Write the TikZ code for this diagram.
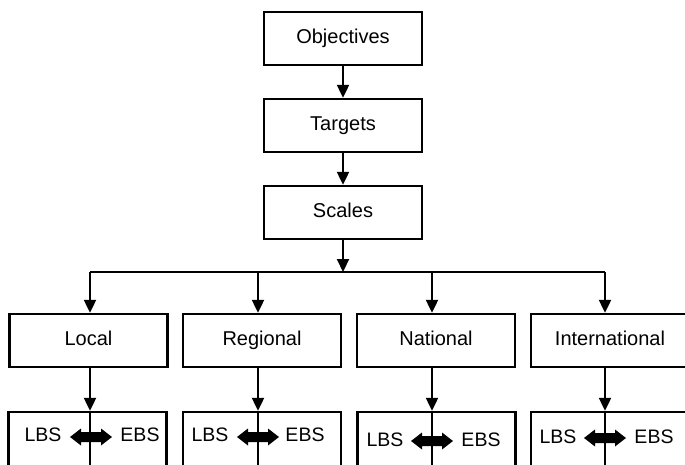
\documentclass[tikz,border=0pt]{standalone}
\usepackage{fontspec}
\setmainfont{Liberation Sans}
\usetikzlibrary{arrows.meta}
\begin{document}
\begin{tikzpicture}[x=1pt,y=-1pt,
  box/.style={draw, line width=2.4pt, minimum width=158pt, minimum height=53pt, inner sep=0pt, text height=14.5pt, text depth=4pt, font=\fontsize{20}{24}\selectfont},
  lowbox/.style={draw, line width=2.4pt, minimum width=158pt, minimum height=100pt, inner sep=0pt},
  conn/.style={line width=2.2pt},
  arr/.style={line width=2.2pt, -{Triangle[length=13pt,width=12pt]}},
  lab/.style={inner sep=0pt, font=\fontsize{19.5}{23}\selectfont},
  dblarrow/.style={fill=black}]
\path[use as bounding box] (0,0) rectangle (685,465);
\clip (0,0) rectangle (685,465);
% top chain
\node[box] (obj) at (343,38.5) {Objectives};
\node[box] (tar) at (343,125.5) {Targets};
\node[box] (sca) at (343,212.5) {Scales};
\coordinate (hub) at (343,272);
\coordinate (j1) at (90,272);
\coordinate (j2) at (258,272);
\coordinate (j3) at (432,272);
\coordinate (j4) at (605,272);
% scale boxes
\node[box] (loc) at (88.5,340.5) {Local};
\node[box] (reg) at (262,340.5) {Regional};
\node[box] (nat) at (436,340.5) {National};
\node[box] (int) at (610,340.5) {International};
% bottom boxes
\node[lowbox] (b1) at (87.5,462) {};
\node[lowbox] (b2) at (262,462) {};
\node[lowbox] (b3) at (436.5,462) {};
\node[lowbox] (b4) at (610,462) {};
% connectors
\draw[arr] (obj) -- (tar);
\draw[arr] (tar) -- (sca);
\draw[arr] (sca) -- (hub);
\draw[conn] (j1) -- (j4);
\draw[arr] (j1) -- (j1 |- loc.north);
\draw[arr] (j2) -- (j2 |- reg.north);
\draw[arr] (j3) -- (j3 |- nat.north);
\draw[arr] (j4) -- (j4 |- int.north);
\draw[arr] (loc.south -| j1) -- (b1.north -| j1);
\draw[arr] (reg.south -| j2) -- (b2.north -| j2);
\draw[arr] (nat.south -| j3) -- (b3.north -| j3);
\draw[arr] (int.south -| j4) -- (b4.north -| j4);
% LBS / EBS
\node[lab] (l1) at (43,435) {LBS};
\coordinate (d1) at (91,437);
\node[lab] (e1) at (140,435) {EBS};
\node[lab] (l2) at (210,435) {LBS};
\coordinate (d2) at (258,437);
\node[lab] (e2) at (305,435) {EBS};
\node[lab] (l3) at (385,440) {LBS};
\coordinate (d3) at (432,441);
\node[lab] (e3) at (481,440) {EBS};
\node[lab] (l4) at (558,437) {LBS};
\coordinate (d4) at (605,438);
\node[lab] (e4) at (654,437) {EBS};
\foreach \d in {d1,d2,d3,d4}{
  \fill[dblarrow] (\d) ++(-21,0) -- ++(11,-8.5) -- ++(0,3.5) -- ++(20,0) -- ++(0,-3.5)
    -- ++(11,8.5) -- ++(-11,8.5) -- ++(0,-3.5) -- ++(-20,0) -- ++(0,3.5) -- cycle;
}
\draw[conn] (b1.north -| j1) -- (b1.south -| j1);
\draw[conn] (b2.north -| j2) -- (b2.south -| j2);
\draw[conn] (b3.north -| j3) -- (b3.south -| j3);
\draw[conn] (b4.north -| j4) -- (b4.south -| j4);
\end{tikzpicture}
\end{document}
